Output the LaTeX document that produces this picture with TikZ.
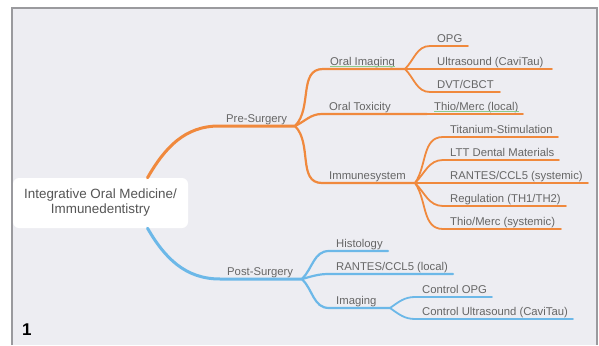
\documentclass[tikz,border=0pt]{standalone}
\usepackage{fontspec}
\setmainfont{Liberation Sans}
\usepackage{tikz}
\definecolor{pagebg}{HTML}{EDEDF2}
\definecolor{framegray}{HTML}{9A9A9E}
\definecolor{textgray}{HTML}{666666}
\definecolor{rootgray}{HTML}{555555}
\definecolor{preorange}{HTML}{F0893D}
\definecolor{postblue}{HTML}{6CB8E8}
\definecolor{spellgreen}{HTML}{8CCB8C}
\newcommand*{\branchfont}{\fontsize{11.3}{13}\selectfont}
\newcommand*{\rootfont}{\fontsize{13.4}{15}\selectfont}
\newcommand*{\numfont}{\bfseries\fontsize{17}{17}\selectfont}

\begin{document}
\begin{tikzpicture}[x=1pt, y=-1pt]
        \useasboundingbox (0,0) rectangle (599,345);
        \fill[pagebg] (12,8) rectangle (597,345);
        \draw[framegray, line width=1.2pt] (12,345) -- (12,8) -- (597,8) -- (597,345);

        \tikzstyle{main}=[line width=3pt, line cap=round]
        \tikzstyle{mid}=[line width=2.2pt, line cap=round]
        \tikzstyle{leaf}=[line width=1.8pt, line cap=round]
        \tikzstyle{spell}=[spellgreen, line width=0.8pt]

        \node[fill=white, rounded corners=6pt, minimum width=175pt, minimum height=50pt,
              align=center, font=\rootfont, text=rootgray] (root) at (100.5,203)
              {Integrative Oral Medicine/\\Immunedentistry};
        \node[anchor=base west, inner sep=0pt, font=\numfont] (fignum) at (22,335) {1};

        {\tikzstyle{every node}=[anchor=south west, inner xsep=7pt, inner ysep=0.8pt,
                                 text depth=2.6pt, font=\branchfont, text=textgray]
          \node (pre) at (219,126) {Pre-Surgery};
          \node (oimg) at (323,69) {Oral Imaging};
          \node (otox) at (322,114) {Oral Toxicity};
          \node (thiol) at (427,114) {Thio/Merc (local)};
          \node (imm) at (322,183) {Immunesystem};

          \foreach \n/\y/\t in {opg/46/OPG, us/69/{Ultrasound (CaviTau)}, dvt/92/{DVT/CBCT}}
          {
            \node (\n) at (430,\y) {\t};
          }

          \foreach \n/\y/\t in {ti/137/Titanium-Stimulation, ltt/160/LTT Dental Materials,
                rantes/183/{RANTES/CCL5 (systemic)}, reg/206/{Regulation (TH1/TH2)},
                thios/229/{Thio/Merc (systemic)}}
          {
            \node (\n) at (443,\y) {\t};
          }

          \node (post) at (220,279) {Post-Surgery};

          \foreach \n/\y/\t in {hist/251/Histology, rantl/274/{RANTES/CCL5 (local)}, img/308/Imaging}
          {
            \node (\n) at (329,\y) {\t};
          }

          \foreach \n/\y/\t in {copg/297/Control OPG, cus/319/{Control Ultrasound (CaviTau)}}
          {
            \node (\n) at (415,\y) {\t};
          }
        }

        % forks
        \coordinate (pre-f) at (295,126);
        \coordinate (oimg-f) at (405,69);
        \coordinate (imm-f) at (415,183);
        \coordinate (post-f) at (302,279);
        \coordinate (img-f) at (390,308);

        % pre-surgery
        \draw[main, preorange] ([xshift=47pt]root.north) to[out=60, in=180] (pre.south west) -- (pre-f);
        \draw[mid, preorange] (pre-f) to[out=45, in=180] (oimg.south west) -- (oimg-f);
        \draw[mid, preorange] (pre-f) to[out=25, in=180] (otox.south west) -- (thiol.south west);
        \draw[mid, preorange] (pre-f) to[out=-45, in=180] (imm.south west) -- (imm-f);
        \draw[leaf, preorange] (thiol.south west) -- (thiol.south west -| 523,0);
        \foreach \n/\a/\e in {opg/45/468, us/0/552, dvt/-45/500}
        {
          \draw[leaf, preorange] (oimg-f) to[out=\a, in=180] (\n.south west) -- (\n.south west -| \e,0);
        }
        \foreach \n/\a/\e in {ti/55/558, ltt/45/559, rantes/0/588, reg/-45/566, thios/-55/561}
        {
          \draw[leaf, preorange] (imm-f) to[out=\a, in=180] (\n.south west) -- (\n.south west -| \e,0);
        }

        % post-surgery
        \draw[main, postblue] ([xshift=47pt]root.south) to[out=-60, in=180] (post.south west) -- (post-f);
        \foreach \n/\a/\e in {hist/45/388, rantl/15/453}
        {
          \draw[mid, postblue] (post-f) to[out=\a, in=180] (\n.south west) -- (\n.south west -| \e,0);
        }
        \draw[mid, postblue] (post-f) to[out=-45, in=180] (img.south west) -- (img-f);
        \foreach \n/\a/\e in {copg/35/492, cus/-35/573}
        {
          \draw[leaf, postblue] (img-f) to[out=\a, in=180] (\n.south west) -- (\n.south west -| \e,0);
        }

        % spell check marks
        \draw[spell] ([xshift=7pt, yshift=3pt]oimg.south west) -- ([xshift=-7pt, yshift=3pt]oimg.south east);
        \draw[spell] ([xshift=7pt, yshift=3pt]thiol.south west) -- ([xshift=-7pt, yshift=3pt]thiol.south east);
\end{tikzpicture}
\end{document}
